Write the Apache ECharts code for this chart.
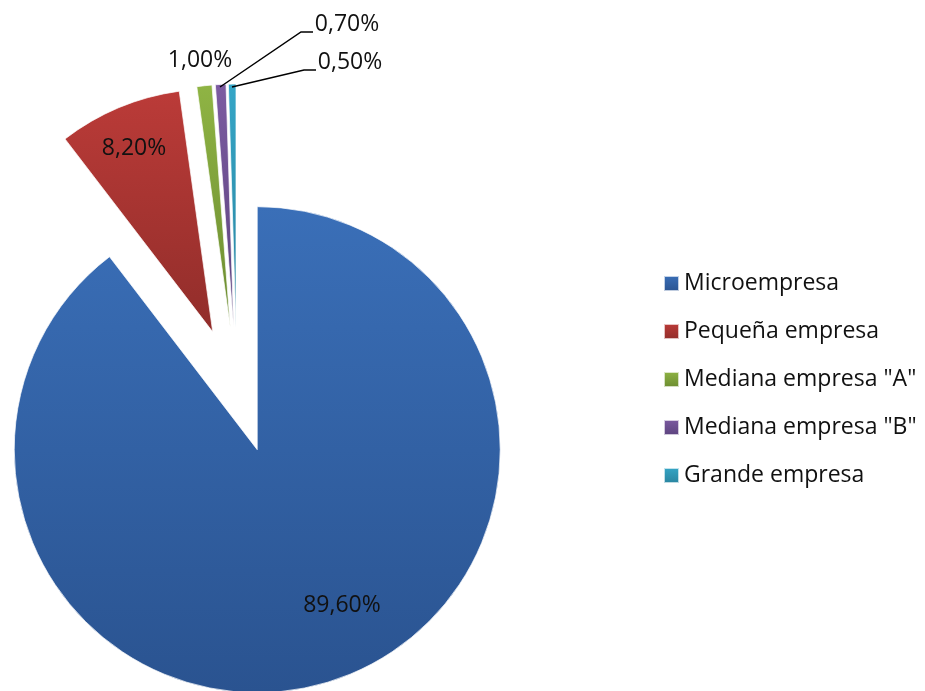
<!DOCTYPE html>
<html>
<head>
<meta charset="utf-8">
<script src="https://cdn.jsdelivr.net/npm/echarts@6/dist/echarts.min.js"></script>
<style>
html,body{margin:0;padding:0;background:#fff;}
#chart{width:925px;height:691px;}
</style>
</head>
<body>
<div id="chart"></div>
<script>
const categories = ['Microempresa', 'Pequeña empresa', 'Mediana empresa "A"', 'Mediana empresa "B"', 'Grande empresa'];
const values = [89.6, 8.2, 1.0, 0.7, 0.5];
const valueLabels = ['89,60%', '8,20%', '1,00%', '0,70%', '0,50%'];

const topColors = ['#3a6fb8', '#bb3b38', '#8fb444', '#7c5ba1', '#35a6c7'];
const bottomColors = ['#2a5390', '#912d2a', '#6b8b30', '#5b427d', '#29839e'];

// label placements (style only): centre of text
const labelPos = [
  [342, 605],
  [134, 148],
  [200, 60],
  [347, 24],
  [350, 62]
];
// leader lines (style only)
const leaderLines = [
  null, null, null,
  [[220, 87], [301, 32], [313, 32]],
  [[232, 87], [304, 70], [316, 70]]
];

const FONT = 'Open Sans';
const FS = 23;

const chart = echarts.init(document.getElementById('chart'), null, {renderer: 'canvas'});

const data = categories.map((name, i) => ({
  name: name,
  value: values[i],
  selected: true,
  itemStyle: {
    color: new echarts.graphic.LinearGradient(0, 0, 0, 1, [
      {offset: 0, color: topColors[i]},
      {offset: 1, color: bottomColors[i]}
    ])
  }
}));

const graphics = [];
valueLabels.forEach((t, i) => {
  graphics.push({
    type: 'text',
    x: labelPos[i][0],
    y: labelPos[i][1],
    z: 100,
    style: {
      text: t,
      font: FS + 'px "' + FONT + '"',
      fill: '#111',
      align: 'center',
      verticalAlign: 'middle'
    }
  });
  if (leaderLines[i]) {
    graphics.push({
      type: 'polyline',
      z: 99,
      shape: {points: leaderLines[i]},
      style: {stroke: '#000', lineWidth: 1.5, fill: null}
    });
  }
});

chart.setOption({
  animation: false,
  backgroundColor: '#fff',
  legend: {
    orient: 'vertical',
    left: 658,
    top: 267,
    itemWidth: 15,
    itemHeight: 15,
    itemGap: 25,
    icon: 'rect',
    selectedMode: false,
    textStyle: {
      fontFamily: FONT,
      fontSize: FS,
      color: '#111'
    },
    data: categories
  },
  graphic: graphics,
  series: [{
    type: 'pie',
    center: [237, 390],
    radius: [0, 243],
    startAngle: 90,
    clockwise: true,
    selectedMode: 'multiple',
    selectedOffset: 63,
    avoidLabelOverlap: false,
    emphasis: {disabled: true},
    label: {show: false},
    labelLine: {show: false},
    itemStyle: {
      borderColor: 'rgba(255,255,255,0.7)',
      borderWidth: 1
    },
    data: data
  }]
});
</script>
</body>
</html>
